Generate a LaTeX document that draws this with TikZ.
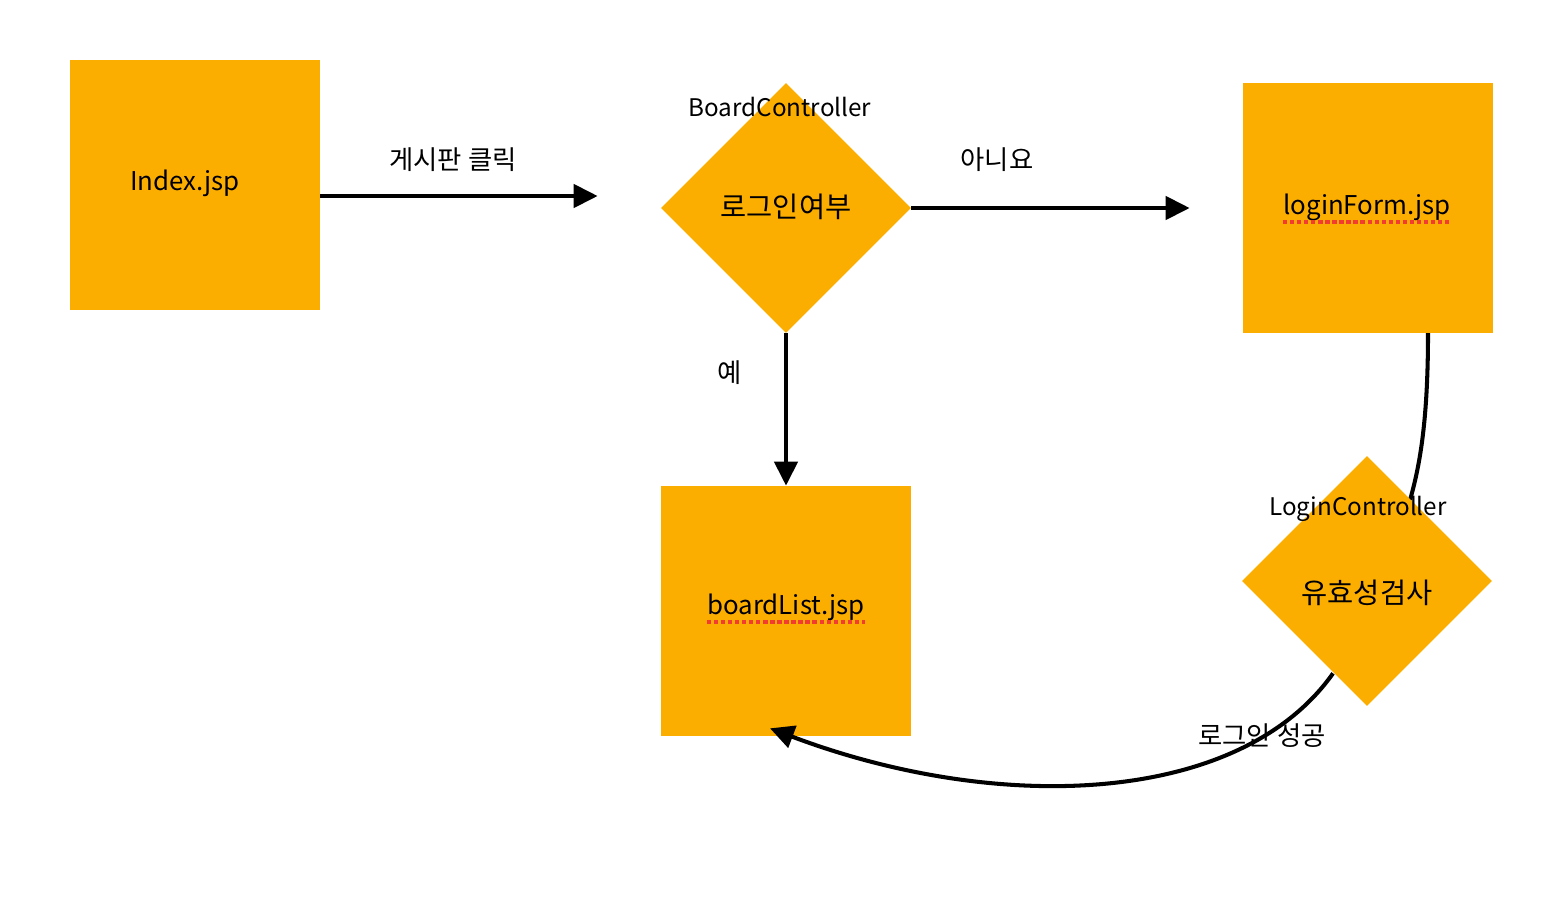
\documentclass[tikz,border=0pt]{standalone}
\usepackage{fontspec}
\setmainfont{Noto Sans CJK KR}
\usetikzlibrary{shapes.geometric, arrows.meta, calc}

\definecolor{boxorange}{RGB}{252,174,0}
\definecolor{spellred}{RGB}{242,60,50}

\tikzset{
  jspbox/.style={fill=boxorange, minimum width=5cm, minimum height=5cm, inner sep=0pt},
  ctrldiamond/.style={diamond, fill=boxorange, minimum width=5cm, minimum height=5cm, inner sep=0pt, aspect=1},
  boxtext/.style={font=\fontsize{14.7}{17}\selectfont, inner sep=0pt},
  boxkor/.style={font=\fontsize{16.2}{19}\selectfont, inner sep=0pt},
  edgetext/.style={font=\fontsize{13.8}{16}\selectfont, inner sep=0pt},
  edgekor/.style={font=\fontsize{15}{18}\selectfont, inner sep=0pt},
  flow/.style={line width=2.5pt, -{Triangle[length=0.48cm, width=0.46cm]}},
  spell/.style={spellred, line width=2pt, dash pattern=on 2.4pt off 1.6pt}
}

\begin{document}
\begin{tikzpicture}[x=0.02cm, y=-0.02cm]

  \useasboundingbox (0,0) rectangle (1568,910);

  % connectors behind the shapes
  \coordinate (lfout) at (1428,333);
  \coordinate (lcin) at (1410,500);
  \draw[line width=2.3pt] (lfout) .. controls (1428,420) and (1420,465) .. (lcin);

  % pages and controllers
  \node[jspbox] (idx) at (195,185) {};
  \node[ctrldiamond] (bc) at (786,208) {};
  \node[jspbox] (lf) at (1368,208) {};
  \node[jspbox] (bl) at (786,611) {};
  \node[ctrldiamond] (lc) at (1367,581) {};

  \node[boxtext] (idxtxt) at (185,183) {Index.jsp};
  \node[boxkor] (bctxt) at (786,207) {로그인여부};
  \node[boxtext] (lftxt) at (1367,207) {loginForm.jsp};
  \node[boxtext] (bltxt) at (786,607) {boardList.jsp};
  \node[boxkor] (lctxt) at (1367,593) {유효성검사};

  \node[edgetext] (bcname) at (780,107) {BoardController};
  \node[edgetext] (lcname) at (1358,509) {LoginController};

  % spell check marks
  \draw[spell] ($(lftxt.base west)+(0,8)$) -- ($(lftxt.base east)+(0,8)$);
  \draw[spell] ($(bltxt.base west)+(0,8)$) -- ($(bltxt.base east)+(0,8)$);

  % arrows
  \draw[flow] ($(idx.east)+(0,11)$) -- ($(bc.west)+(-63,-12)$);
  \node[edgekor] (clicklbl) at (453,160) {게시판 클릭};

  \draw[flow] (bc.east) -- ($(lf.west)+(-53,0)$);
  \node[edgekor] (nolbl) at (997,160) {아니요};

  \draw[flow] (bc.south) -- (bl.north);
  \node[edgekor] (yeslbl) at (730,373) {예};

  \draw[flow, line width=2.3pt] ($(lc.south)+(-34,-33)$) .. controls (1240,805) and (1000,815) .. ($(bl.south)+(-16,-8)$);
  \node[edgekor] (oklbl) at (1262,736) {로그인 성공};

\end{tikzpicture}
\end{document}
